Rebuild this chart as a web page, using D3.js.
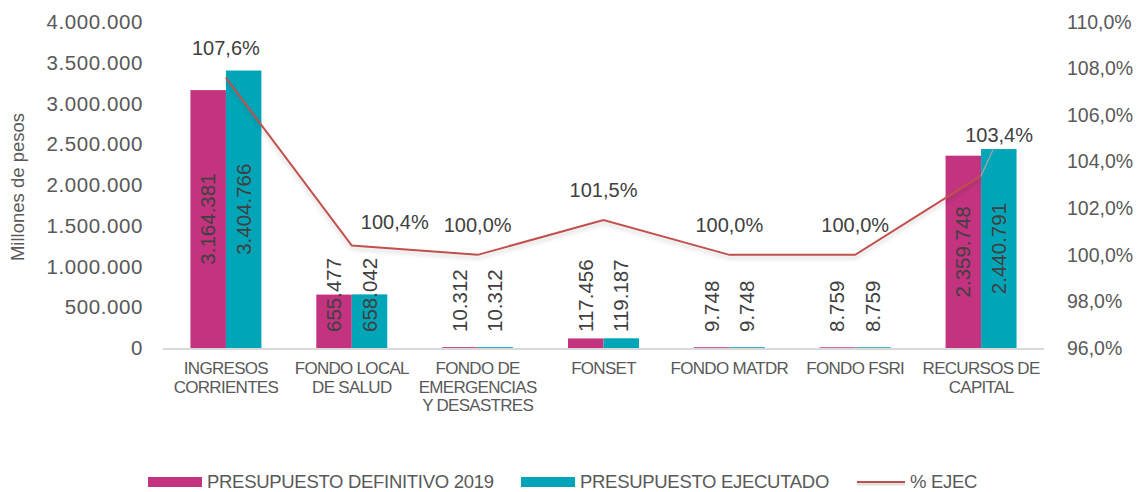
<!DOCTYPE html>
<html>
<head>
<meta charset="utf-8">
<script src="https://cdn.jsdelivr.net/npm/d3@7"></script>
<style>
  html, body { margin: 0; padding: 0; background: #fff; }
  svg { display: block; font-family: 'Liberation Sans', Arial, sans-serif; }
</style>
</head>
<body>
<svg id="chart" width="1137" height="492"></svg>
<script>
// chart data
const categories = [
    ['INGRESOS', 'CORRIENTES'],
    ['FONDO LOCAL', 'DE SALUD'],
    ['FONDO DE', 'EMERGENCIAS', 'Y DESASTRES'],
    ['FONSET'],
    ['FONDO MATDR'],
    ['FONDO FSRI'],
    ['RECURSOS DE', 'CAPITAL']
];
const definitivo = [3164381, 655477, 10312, 117456, 9748, 8759, 2359748];
const ejecutado = [3404766, 658042, 10312, 119187, 9748, 8759, 2440791];
const pctEjec = [107.6, 100.4, 100.0, 101.5, 100.0, 100.0, 103.4];
const leftTicks = [0, 500000, 1000000, 1500000, 2000000, 2500000, 3000000, 3500000, 4000000];
const rightTicks = [96, 98, 100, 102, 104, 106, 108, 110];
const seriesNames = ['PRESUPUESTO DEFINITIVO 2019', 'PRESUPUESTO EJECUTADO', '% EJEC'];

const colors = { def: '#c3337f', eje: '#00a6b8', line: '#c0504d', text: '#404040', axis: '#595959' };

const margin = { top: 22, left: 163, right: 93, bottom: 144 };
const width = 1137, height = 492;
const plotBottom = height - margin.bottom;

const numFmt = d3.formatLocale({ decimal: ',', thousands: '.', grouping: [3], currency: ['$', ''] });
const fmtInt = numFmt.format(',d');
const fmtPct = numFmt.format('.1f');

const svg = d3.select('#chart');

const x = d3.scaleBand()
    .domain(d3.range(categories.length))
    .range([margin.left, width - margin.right])
    .paddingInner(0.436)
    .paddingOuter(0.218);
const xs = d3.scaleBand()
    .domain(['def', 'eje'])
    .range([0, x.bandwidth()]);
const y = d3.scaleLinear().domain([0, 4000000]).range([plotBottom, margin.top]);
const y2 = d3.scaleLinear().domain([96, 110]).range([plotBottom, margin.top]);

// shadow for the line
const defs = svg.append('defs');
defs.append('filter').attr('id', 'shadow')
    .attr('filterUnits', 'userSpaceOnUse')
    .attr('x', 0).attr('y', 0).attr('width', width).attr('height', height)
  .append('feDropShadow').attr('dx', 0).attr('dy', 3).attr('stdDeviation', 2)
    .attr('flood-color', '#000').attr('flood-opacity', 0.18);

// left axis
const yAxis = d3.axisLeft(y).tickValues(leftTicks).tickSize(0).tickPadding(0).tickFormat(fmtInt);
svg.append('g')
    .attr('transform', 'translate(143,0)')
    .call(yAxis)
    .call(g => g.select('.domain').remove())
    .selectAll('text')
        .attr('fill', colors.axis)
        .style('font-size', '20.5px')
        .style('letter-spacing', '0.6px')
        .style('font-family', "'Liberation Sans', Arial, sans-serif");

// right axis
const y2Axis = d3.axisRight(y2).tickValues(rightTicks).tickSize(0).tickPadding(0).tickFormat(d => fmtPct(d) + '%');
svg.append('g')
    .attr('transform', 'translate(1067,0)')
    .call(y2Axis)
    .call(g => g.select('.domain').remove())
    .selectAll('text')
        .attr('fill', colors.axis)
        .style('font-size', '19.5px')
        .style('font-family', "'Liberation Sans', Arial, sans-serif");

// axis title
svg.append('text')
    .attr('transform', `translate(24, ${(margin.top + plotBottom) / 2 + 2}) rotate(-90)`)
    .attr('text-anchor', 'middle')
    .attr('fill', colors.axis)
    .style('font-size', '18.5px')
    .text('Millones de pesos');

// bars
const barData = [];
categories.forEach((c, i) => {
    barData.push({ i, key: 'def', v: definitivo[i] });
    barData.push({ i, key: 'eje', v: ejecutado[i] });
});

svg.append('g')
    .selectAll('rect')
    .data(barData)
    .enter()
    .append('rect')
        .attr('x', d => x(d.i) + xs(d.key))
        .attr('width', xs.bandwidth())
        .attr('y', d => y(d.v))
        .attr('height', d => plotBottom - y(d.v))
        .attr('fill', d => colors[d.key]);

// baseline
svg.append('line')
    .attr('x1', margin.left).attr('x2', width - margin.right)
    .attr('y1', plotBottom + 1).attr('y2', plotBottom + 1)
    .attr('stroke', '#d9d9d9').attr('stroke-width', 2);

// bar value labels (vertical)
svg.append('g')
    .selectAll('text')
    .data(barData)
    .enter()
    .append('text')
        .attr('transform', d => {
            const cx = x(d.i) + xs(d.key) + xs.bandwidth() / 2 + 7;
            const h = plotBottom - y(d.v);
            const cy = h > 120 ? (y(d.v) + plotBottom) / 2 : plotBottom - 16;
            return `translate(${cx}, ${cy}) rotate(-90)`;
        })
        .attr('text-anchor', d => (plotBottom - y(d.v)) > 120 ? 'middle' : 'start')
        .attr('fill', colors.text)
        .style('font-size', '20.5px')
        .text(d => fmtInt(d.v));

// % line
const cx = i => x(i) + x.bandwidth() / 2;
const line = d3.line().x((d, i) => cx(i)).y(d => y2(d));
svg.append('path')
    .datum(pctEjec)
    .attr('d', line)
    .attr('fill', 'none')
    .attr('stroke', colors.line)
    .attr('stroke-width', 2)
    .attr('filter', 'url(#shadow)');

// % labels (Excel-style nudges)
const labelNudge = [[0, 0], [43, 6], [0, 0], [0, 0], [0, 0], [0, 0], [18, -11]];
svg.append('line')
    .attr('x1', cx(6)).attr('y1', y2(pctEjec[6]))
    .attr('x2', cx(6) + 12).attr('y2', y2(pctEjec[6]) - 26)
    .attr('stroke', '#a6a6a6').attr('stroke-width', 1.2);

svg.append('g')
    .selectAll('text')
    .data(pctEjec)
    .enter()
    .append('text')
        .attr('x', (d, i) => cx(i) + labelNudge[i][0])
        .attr('y', (d, i) => y2(d) - 30 + labelNudge[i][1])
        .attr('dy', '0.35em')
        .attr('text-anchor', 'middle')
        .attr('fill', colors.text)
        .style('font-size', '20px')
        .text(d => fmtPct(d) + '%');

// category labels
const catG = svg.append('g');
categories.forEach((lines, i) => {
    const t = catG.append('text')
        .attr('x', cx(i))
        .attr('y', plotBottom + 26)
        .attr('text-anchor', 'middle')
        .attr('fill', colors.axis)
        .style('font-size', '17px')
        .style('letter-spacing', '-0.7px');
    lines.forEach((l, k) => {
        t.append('tspan').attr('x', cx(i)).attr('dy', k === 0 ? 0 : 18.5).text(l);
    });
});

// legend
const legend = svg.append('g');
const legendItems = [
    { name: seriesNames[0], x: 148, type: 'rect', color: colors.def },
    { name: seriesNames[1], x: 521, type: 'rect', color: colors.eje },
    { name: seriesNames[2], x: 857, type: 'line', color: colors.line }
];
const ly = 482;
legendItems.forEach(it => {
    if (it.type === 'rect') {
        legend.append('rect').attr('x', it.x).attr('y', ly - 5).attr('width', 54).attr('height', 10).attr('fill', it.color);
    } else {
        legend.append('line').attr('x1', it.x).attr('x2', it.x + 48).attr('y1', ly + 2).attr('y2', ly + 2)
            .attr('stroke', '#000').attr('stroke-opacity', 0.12).attr('stroke-width', 3);
        legend.append('line').attr('x1', it.x).attr('x2', it.x + 48).attr('y1', ly).attr('y2', ly)
            .attr('stroke', it.color).attr('stroke-width', 2);
    }
    legend.append('text')
        .attr('x', it.x + (it.type === 'rect' ? 59 : 53))
        .attr('y', ly)
        .attr('dy', '0.33em')
        .attr('fill', colors.axis)
        .style('font-size', '18.5px')
        .style('letter-spacing', '-0.3px')
        .text(it.name);
});
</script>
</body>
</html>
